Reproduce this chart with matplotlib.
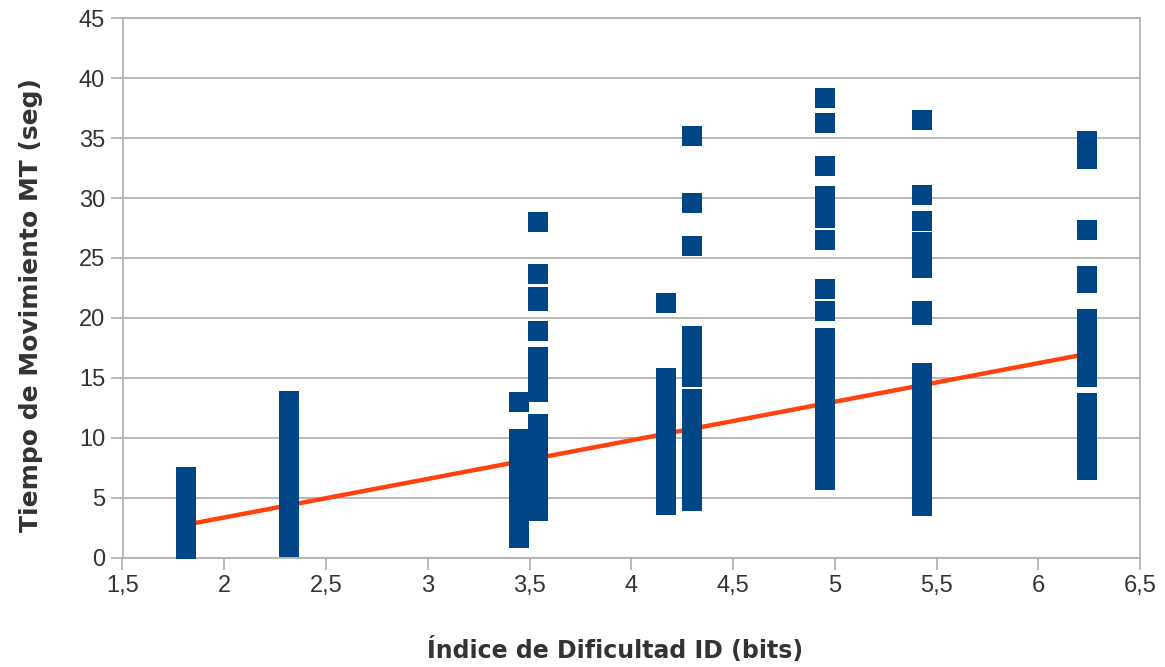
import matplotlib
matplotlib.use("Agg")
import matplotlib.pyplot as plt
import numpy as np

# ---- data ----
id_bits = [1.81, 2.32, 3.45, 3.54, 4.17, 4.30, 4.95, 5.43, 6.24]

mt_181 = [6.7, 6.4, 6.0, 5.7, 5.4, 5.1, 4.8, 4.5, 4.2, 3.9, 3.6, 3.3, 3.0, 2.7,
          2.4, 2.1, 1.8, 1.5, 1.2, 0.9, 0.7]
mt_232 = [13.1, 12.7, 12.2, 11.8, 11.3, 10.9, 10.4, 10.0, 9.6, 9.1, 8.7, 8.3, 7.9,
          7.5, 7.1, 6.7, 6.3, 5.9, 5.5, 5.1, 4.7, 4.3, 3.9, 3.5, 3.1, 2.7, 2.3,
          1.9, 1.5, 1.2, 0.9]
mt_345 = [13.0, 9.9, 9.5, 9.1, 8.7, 8.3, 7.9, 7.5, 7.1, 6.7, 6.3, 5.9, 5.5, 5.1,
          4.7, 4.3, 3.9, 3.5, 3.1, 2.7, 2.3, 1.9, 1.6]
mt_354 = [28.0, 23.7, 21.7, 21.4, 18.9, 16.7, 16.3, 15.9, 15.5, 15.1, 14.7, 14.3,
          13.8, 11.1, 10.7, 10.3, 9.9, 9.5, 9.1, 8.7, 8.3, 7.9, 7.5, 7.1, 6.7,
          6.3, 5.9, 5.5, 5.1, 4.7, 4.3, 3.85]
mt_417 = [21.2, 14.95, 14.5, 14.1, 13.7, 13.3, 12.9, 12.5, 12.1, 11.7, 11.3, 10.9,
          10.5, 10.1, 9.7, 9.3, 8.9, 8.5, 8.1, 7.7, 7.3, 6.9, 6.5, 6.1, 5.7, 5.3,
          4.9, 4.4]
mt_430 = [35.2, 29.6, 26.0, 18.5, 18.1, 17.7, 17.3, 16.9, 16.5, 16.1, 15.7, 15.1,
          13.2, 12.8, 12.4, 12.0, 11.6, 11.2, 10.8, 10.4, 10.0, 9.6, 9.2, 8.8,
          8.4, 8.0, 7.6, 7.2, 6.8, 6.4, 6.0, 5.6, 5.2, 4.7]
mt_495 = [38.35, 36.3, 32.65, 30.2, 29.6, 28.8, 28.3, 26.5, 22.4, 20.6, 18.3, 17.6,
          17.2, 16.8, 16.4, 16.0, 15.6, 15.2, 14.8, 14.4, 14.0, 13.6, 13.2, 12.8,
          12.4, 12.0, 11.6, 11.2, 10.8, 10.4, 10.0, 9.6, 9.2, 8.8, 8.4, 8.0, 7.6,
          7.2, 6.8, 6.5]
mt_543 = [36.5, 30.25, 28.1, 26.3, 25.9, 25.5, 25.0, 24.6, 24.2, 20.6, 20.2, 15.4,
          15.0, 14.6, 14.2, 13.8, 13.3, 12.9, 12.5, 12.1, 11.7, 11.3, 10.9, 10.5,
          10.1, 9.7, 9.3, 8.9, 8.5, 8.1, 7.7, 7.3, 6.9, 6.5, 6.1, 5.7, 5.3, 4.9,
          4.6, 4.3]
mt_624 = [34.8, 34.4, 33.9, 33.6, 33.25, 27.3, 23.5, 22.9, 19.9, 19.5, 19.1, 18.7,
          18.3, 17.9, 17.5, 17.1, 16.7, 16.3, 15.9, 15.5, 15.1, 12.9, 12.5, 12.1,
          11.7, 11.3, 10.9, 10.5, 10.1, 9.7, 9.3, 8.9, 8.5, 8.1, 7.7, 7.3]

mt_columns = [mt_181, mt_232, mt_345, mt_354, mt_417, mt_430, mt_495, mt_543, mt_624]

trend_slope = 3.22
trend_intercept = -3.10

x_ticks = [1.5, 2, 2.5, 3, 3.5, 4, 4.5, 5, 5.5, 6, 6.5]
x_tick_labels = ["1,5", "2", "2,5", "3", "3,5", "4", "4,5", "5", "5,5", "6", "6,5"]
y_ticks = [0, 5, 10, 15, 20, 25, 30, 35, 40, 45]

x_label = "Índice de Dificultad ID (bits)"
y_label = "Tiempo de Movimiento MT (seg)"

# ---- plot ----
plt.rcParams['font.family'] = ['Liberation Sans', 'DejaVu Sans']

fig = plt.figure(figsize=(11.65, 6.67), dpi=100)
ax = fig.add_axes([122.5 / 1165, 1 - 557.5 / 667, (1140 - 122.5) / 1165, (557.5 - 18.3) / 667])

grid_c = "#b3b3b3"
text_c = "#333333"

xs = []
ys = []
for xv, col in zip(id_bits, mt_columns):
    xs.extend([xv] * len(col))
    ys.extend(col)

tx = np.array([min(id_bits), max(id_bits)])
ax.plot(tx, trend_slope * tx + trend_intercept, color="#ff420e", lw=3.2,
        solid_capstyle="butt", zorder=2)

ax.scatter(xs, ys, marker="s", s=205, color="#004586", linewidths=0, zorder=3)

ax.set_xlim(1.5, 6.5)
ax.set_ylim(0, 45)
ax.set_xticks(x_ticks)
ax.set_xticklabels(x_tick_labels)
ax.set_yticks(y_ticks)

ax.yaxis.grid(True, color=grid_c, lw=1.3)
ax.set_axisbelow(True)
for s in ax.spines.values():
    s.set_color(grid_c)
    s.set_linewidth(1.3)

ax.tick_params(axis="both", direction="out", length=8.5, width=1.3, color=grid_c,
               labelsize=17, labelcolor=text_c, pad=4)

ax.set_xlabel(x_label, family=["DejaVu Sans"], fontsize=17, fontweight="bold", color=text_c)
ax.set_ylabel(y_label, family=["DejaVu Sans"], fontsize=18, fontweight="bold", color=text_c)
ax.xaxis.set_label_coords(0.484, -0.148)
ax.yaxis.set_label_coords(-0.078, 0.468)

fig.savefig("out.png", dpi=100)
